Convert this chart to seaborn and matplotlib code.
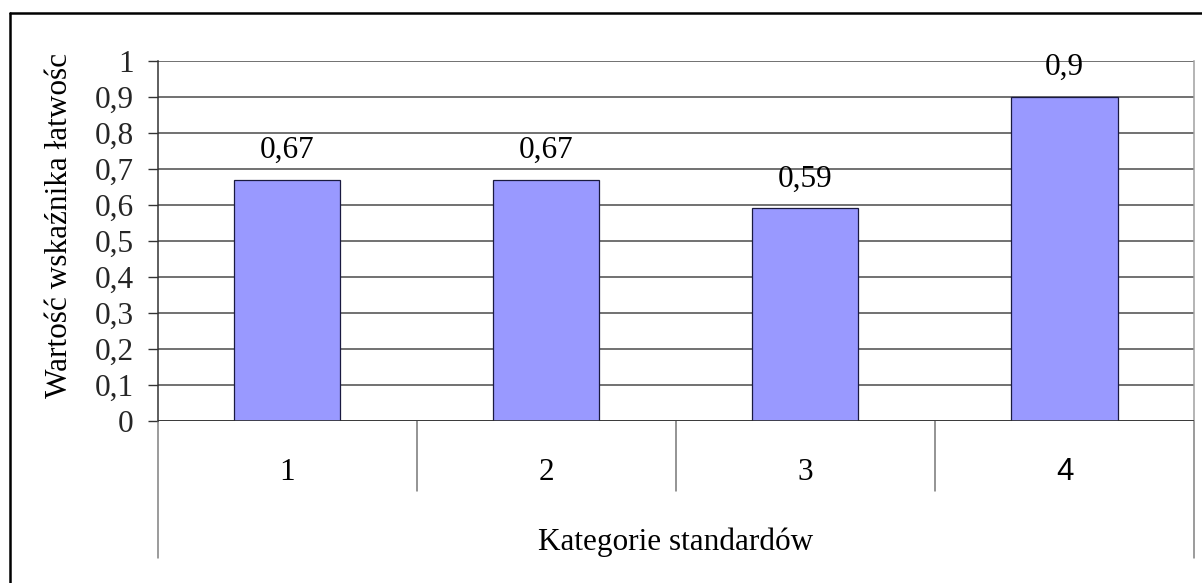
import matplotlib
matplotlib.use("Agg")
import matplotlib.pyplot as plt
from matplotlib.lines import Line2D
import seaborn as sns
import pandas as pd

# Data
categories = ["1", "2", "3", "4"]
values = [0.67, 0.67, 0.59, 0.90]
value_labels = ["0,67", "0,67", "0,59", "0,9"]
y_ticks = [0.0, 0.1, 0.2, 0.3, 0.4, 0.5, 0.6, 0.7, 0.8, 0.9, 1.0]
y_tick_labels = ["0", "0,1", "0,2", "0,3", "0,4", "0,5", "0,6", "0,7", "0,8", "0,9", "1"]
x_title = "Kategorie standardów"
y_title = "Wartość wskaźnika łatwośc"

sns.set_theme(style="white")
plt.rcParams["font.family"] = ["Liberation Serif", "DejaVu Serif"]

FS = 22.5
W, H = 1202, 583
fig = plt.figure(figsize=(W / 100, H / 100), dpi=100)
fig.patch.set_facecolor("white")

left_px, right_px, top_px, zero_px = 157.7, 1194.0, 60.7, 420.7
ax = fig.add_axes([left_px / W, (H - zero_px) / H,
                   (right_px - left_px) / W, (zero_px - top_px) / H])
ax.set_facecolor("white")

df = pd.DataFrame({"kategoria": categories, "wartosc": values})
sns.barplot(data=df, x="kategoria", y="wartosc", color="#9999FF",
            saturation=1, width=0.41, edgecolor="#1a1a40", linewidth=0.9,
            ax=ax, zorder=3)

ax.set_xlim(-0.5, 3.5)
ax.set_ylim(0, 1)

# Horizontal gridlines
ax.set_yticks(y_ticks)
ax.set_yticklabels(y_tick_labels, fontsize=FS)
ax.yaxis.grid(True, color="#4a4a4a", linewidth=1.1, zorder=0)
ax.set_axisbelow(True)
ax.tick_params(axis="y", direction="out", length=7.2, width=1.0,
               color="#333333", pad=10, left=True)

# Spines
for s in ["top", "bottom"]:
    ax.spines[s].set_visible(False)
ax.spines["left"].set_color("#333333")
ax.spines["left"].set_linewidth(1.1)
ax.spines["right"].set_color("#a0a0a0")
ax.spines["right"].set_linewidth(1.1)
ax.axhline(0, color="#333333", linewidth=1.2, zorder=4)

# Category axis: labels and separators below the plot area
ax.set_xticks([])
ax.set_xlabel("")
ax.set_ylabel("")
xt = ax.get_xaxis_transform()
axis_h = zero_px - top_px
for i, c in enumerate(categories):
    fam = ["Liberation Sans"] if c == "4" else ["Liberation Serif"]
    ax.text(i, -(480 - zero_px) / axis_h, c, transform=xt, ha="center",
            va="baseline", fontsize=FS, family=fam, color="black")
for xs in [0.5, 1.5, 2.5]:
    ax.add_line(Line2D([xs, xs], [0, -(491 - zero_px) / axis_h], transform=xt,
                       color="#777777", linewidth=1.1, clip_on=False))
for xs in [-0.5, 3.5]:
    ax.add_line(Line2D([xs, xs], [0, -(558 - zero_px) / axis_h], transform=xt,
                       color="#808080", linewidth=1.1, clip_on=False))
ax.text(1.5, -(550 - zero_px) / axis_h, x_title, transform=xt, ha="center",
        va="baseline", fontsize=FS, color="black")

# Value labels above bars
for i, (v, lab) in enumerate(zip(values, value_labels)):
    ax.annotate(lab, (i, v), xytext=(0, 15.6), textcoords="offset points",
                ha="center", va="baseline", fontsize=FS, color="black",
                zorder=5, annotation_clip=False)

# Y axis title
ax.set_ylabel(y_title, fontsize=FS, color="black")
ax.yaxis.label.set_va("baseline")
ax.yaxis.set_label_coords((66.7 - left_px) / (right_px - left_px),
                          (zero_px - 225) / axis_h)

# Chart border (top and left edges of the frame)
bx, by = 10.3, 12.8
fig.add_artist(Line2D([bx / W, 1.0], [1 - by / H, 1 - by / H],
                      transform=fig.transFigure, color="black", linewidth=1.8))
fig.add_artist(Line2D([bx / W, bx / W], [1 - by / H, 0.0],
                      transform=fig.transFigure, color="black", linewidth=1.8))

fig.savefig("out.png", dpi=100, facecolor="white")
